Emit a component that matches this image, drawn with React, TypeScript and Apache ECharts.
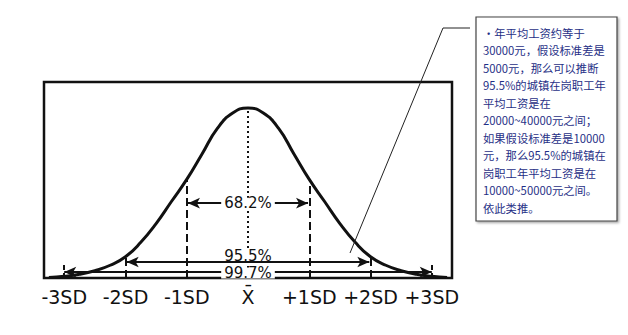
import React, { useEffect, useRef } from "react";
import * as echarts from "echarts";

// curve (x in SD units, height relative to peak = 100)
const curveX = [-3.25, -3, -2.75, -2.5, -2.25, -2, -1.75, -1.5, -1.25, -1, -0.75, -0.5, -0.25, 0, 0.25, 0.5, 0.75, 1, 1.25, 1.5, 1.75, 2, 2.25, 2.5, 2.75, 3, 3.25];
const curveY = [0.3, 1, 2.2, 4.3, 7.5, 12.5, 21, 32, 45, 58, 73, 88, 97, 100, 97, 88, 73, 58, 45, 32, 21, 12.5, 7.5, 4.3, 2.2, 1, 0.3];

// SD guide lines and tick labels
const sdPositions = [-3, -2, -1, 0, 1, 2, 3];
const sdLabels = ["-3SD", "-2SD", "-1SD", "X\u0304", "+1SD", "+2SD", "+3SD"];
const guideHeights = [9, 12, 58, 100, 58, 12, 9];

// percentage bands
const bandLabels = ["68.2%", "95.5%", "99.7%"];
const bandHalfWidth = [0.98, 1.98, 3.0];
const bandHeight = [44, 9.4, 3.5];
const bandLabelShift = [0, -6.5, 1];

// callout text
const noteLines = [
  "•年平均工资约等于",
  "30000元，假设标准差是",
  "5000元，那么可以推断",
  "95.5%的城镇在岗职工年",
  "平均工资是在",
  "20000~40000元之间；",
  "如果假设标准差是10000",
  "元，那么95.5%的城镇在",
  "岗职工年平均工资是在",
  "10000~50000元之间。",
  "依此类推。",
];

export default function App() {
  const ref = useRef<HTMLDivElement>(null);
  useEffect(() => {
    if (!ref.current) return;
    const chart = echarts.init(ref.current, null, { renderer: "svg" });
    const font = "DejaVu Sans";
    const guides = sdPositions.map((p, i) => {
      const isCenter = p === 0;
      const a = Math.abs(p);
      return [
        {
          coord: [p, 0],
          lineStyle: {
            type: isCenter ? [2, 3] : a === 3 ? [5, 3] : [8, 4],
            width: 2,
            color: "#111",
          },
        },
        { coord: [p, guideHeights[i]] },
      ];
    });
    const arrows = bandLabels.map((l, i) => [
      {
        coord: [-bandHalfWidth[i], bandHeight[i]],
        label: { formatter: l, offset: [0, bandLabelShift[i]] },
      },
      { coord: [bandHalfWidth[i], bandHeight[i]] },
    ]);
    chart.setOption({
      animation: false,
      backgroundColor: "#fff",
      grid: {
        left: 44,
        right: 176,
        top: 82,
        bottom: 57,
        show: true,
        borderColor: "#111",
        borderWidth: 2.5,
        backgroundColor: "transparent",
      },
      xAxis: {
        type: "value",
        min: -3.33,
        max: 3.33,
        splitLine: { show: false },
        axisLine: { show: false },
        axisTick: { show: false },
        axisLabel: {
          customValues: sdPositions,
          formatter: (v: number) => sdLabels[sdPositions.indexOf(Math.round(v))] ?? "",
          fontFamily: font,
          fontSize: 19,
          color: "#111",
          margin: 9,
        },
      },
      yAxis: {
        type: "value",
        min: 0,
        max: 115.3,
        show: false,
        splitLine: { show: false },
      },
      series: [
        {
          type: "line",
          data: curveX.map((x, i) => [x, curveY[i]]),
          smooth: true,
          showSymbol: false,
          lineStyle: { color: "#111", width: 3 },
          silent: true,
          z: 3,
        },
        {
          type: "line",
          data: [],
          silent: true,
          markLine: {
            silent: true,
            symbol: "none",
            label: { show: false },
            data: guides,
          },
        },
        {
          type: "line",
          data: [],
          silent: true,
          markLine: {
            silent: true,
            symbol: ["arrow", "arrow"],
            symbolSize: [8, 12],
            lineStyle: { type: "solid", color: "#111", width: 2 },
            label: {
              show: true,
              position: "middle",
              distance: 0,
              verticalAlign: "middle",
              fontFamily: font,
              fontSize: 15,
              lineHeight: 11,
              color: "#111",
              backgroundColor: "#fff",
              padding: [0, 3],
            },
            data: arrows,
          },
          z: 4,
        },
      ],
      graphic: [
        {
          type: "polyline",
          shape: { points: [[470, 28], [443, 28], [350, 253]] },
          style: { stroke: "#222", lineWidth: 1, fill: "none" },
          z: 10,
        },
        {
          type: "rect",
          shape: { x: 476, y: 17, width: 141, height: 204 },
          style: {
            fill: "#fff",
            stroke: "#444",
            lineWidth: 1.2,
            shadowBlur: 2,
            shadowOffsetX: 1.5,
            shadowOffsetY: 1.5,
            shadowColor: "rgba(0,0,0,0.35)",
          },
          z: 10,
        },
        {
          type: "text",
          x: 483,
          y: 24,
          style: {
            text: noteLines.join("\n"),
            fontFamily: "Noto Sans CJK SC",
            fontSize: 11.3,
            lineHeight: 17.5,
            fill: "#1f2f86",
            textVerticalAlign: "top",
          },
          z: 11,
        },
      ],
    });
    return () => chart.dispose();
  }, []);
  return (
    <div
      ref={ref}
      style={{ position: "fixed", left: 0, top: 0, width: 628, height: 335, background: "#fff" }}
    />
  );
}
